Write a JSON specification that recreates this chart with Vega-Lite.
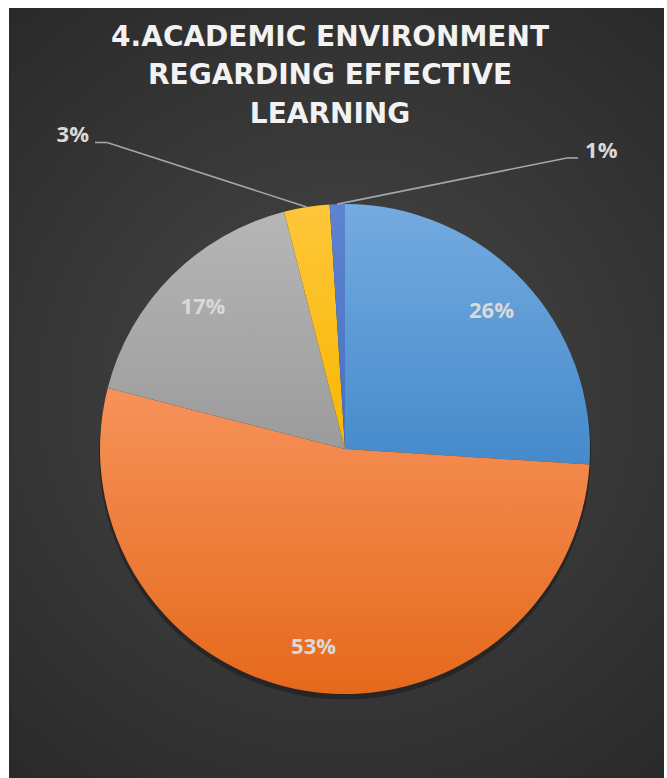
{
  "$schema": "https://vega.github.io/schema/vega-lite/v6.json",
  "width": 655,
  "height": 770,
  "autosize": {"type": "none"},
  "padding": {"left": 9, "top": 8, "right": 3, "bottom": 0},
  "background": "#ffffff",
  "view": {
    "stroke": null,
    "fill": {"gradient": "radial", "x1": 0.5, "y1": 0.5, "r1": 0, "x2": 0.5, "y2": 0.5, "r2": 0.75,
      "stops": [{"offset": 0, "color": "#484848"}, {"offset": 1, "color": "#252525"}]}
  },
  "data": {"values": [
    {"order": 1, "response": "Strongly agree", "value": 26},
    {"order": 2, "response": "Agree", "value": 53},
    {"order": 3, "response": "Neutral", "value": 17},
    {"order": 4, "response": "Disagree", "value": 3},
    {"order": 5, "response": "Strongly disagree", "value": 1}
  ]},
  "transform": [
    {"window": [{"op": "sum", "field": "value", "as": "cum"}], "sort": [{"field": "order"}], "frame": [null, 0]},
    {"calculate": "datum.cum - datum.value", "as": "start"},
    {"calculate": "(datum.start + datum.cum) * PI / 100", "as": "mid"},
    {"calculate": "sin(datum.mid)", "as": "ex"},
    {"calculate": "cos(datum.mid)", "as": "ey"},
    {"calculate": "0.82 * sin(datum.mid)", "as": "lx"},
    {"calculate": "0.82 * cos(datum.mid)", "as": "ly"},
    {"calculate": "datum.value + '%'", "as": "label"}
  ],
  "layer": [
    {
      "mark": {"type": "arc", "outerRadius": 246, "fill": "#151515", "fillOpacity": 0.45, "stroke": null},
      "encoding": {
        "theta": {"field": "start", "type": "quantitative", "stack": null, "scale": {"domain": [0, 100], "range": [0, 6.283185307]}},
        "theta2": {"field": "cum"},
        "x": {"datum": 0, "type": "quantitative", "scale": {"domain": [-1.3714, 1.302], "nice": false, "zero": false}, "axis": null},
        "y": {"datum": -0.018, "type": "quantitative", "scale": {"domain": [-1.3429, 1.8], "nice": false, "zero": false}, "axis": null}
      }
    },
    {
      "mark": {"type": "arc", "outerRadius": 245, "stroke": null},
      "encoding": {
        "theta": {"field": "start", "type": "quantitative", "stack": null, "scale": {"domain": [0, 100], "range": [0, 6.283185307]}},
        "theta2": {"field": "cum"},
        "x": {"datum": 0, "type": "quantitative", "scale": {"domain": [-1.3714, 1.302], "nice": false, "zero": false}, "axis": null},
        "y": {"datum": 0, "type": "quantitative", "scale": {"domain": [-1.3429, 1.8], "nice": false, "zero": false}, "axis": null},
        "fill": {
          "condition": [
            {"test": "datum.order == 1", "value": {"gradient": "linear", "x1": 0, "y1": 0, "x2": 0, "y2": 1, "stops": [{"offset": 0, "color": "#74abe0"}, {"offset": 1, "color": "#458acb"}]}},
            {"test": "datum.order == 2", "value": {"gradient": "linear", "x1": 0, "y1": 0, "x2": 0, "y2": 1, "stops": [{"offset": 0, "color": "#f6925a"}, {"offset": 1, "color": "#e5691b"}]}},
            {"test": "datum.order == 3", "value": {"gradient": "linear", "x1": 0, "y1": 0, "x2": 0, "y2": 1, "stops": [{"offset": 0, "color": "#b6b6b6"}, {"offset": 1, "color": "#9b9b9b"}]}},
            {"test": "datum.order == 4", "value": {"gradient": "linear", "x1": 0, "y1": 0, "x2": 0, "y2": 1, "stops": [{"offset": 0, "color": "#ffc63a"}, {"offset": 1, "color": "#f7b800"}]}}
          ],
          "value": {"gradient": "linear", "x1": 0, "y1": 0, "x2": 0, "y2": 1, "stops": [{"offset": 0, "color": "#5e84d0"}, {"offset": 1, "color": "#4670c2"}]}
        }
      }
    },
    {
      "transform": [{"filter": "datum.value >= 10"}],
      "mark": {"type": "text", "font": "Open Sans", "fontWeight": "bold", "fontSize": 22, "color": "#d9d9d9", "align": "center", "baseline": "middle"},
      "encoding": {
        "x": {"field": "lx", "type": "quantitative", "scale": {"domain": [-1.3714, 1.302], "nice": false, "zero": false}, "axis": null},
        "y": {"field": "ly", "type": "quantitative", "scale": {"domain": [-1.3429, 1.8], "nice": false, "zero": false}, "axis": null},
        "text": {"field": "label"}
      }
    },
    {
      "transform": [{"filter": "datum.order == 4"}],
      "mark": {"type": "rule", "color": "#a6a6a6", "strokeWidth": 1.6},
      "encoding": {
        "x": {"field": "ex", "type": "quantitative", "scale": {"domain": [-1.3714, 1.302], "nice": false, "zero": false}, "axis": null},
        "y": {"field": "ey", "type": "quantitative", "scale": {"domain": [-1.3429, 1.8], "nice": false, "zero": false}, "axis": null},
        "x2": {"datum": -0.971},
        "y2": {"datum": 1.251}
      }
    },
    {
      "transform": [{"filter": "datum.order == 4"}],
      "mark": {"type": "rule", "color": "#a6a6a6", "strokeWidth": 1.6},
      "encoding": {
        "x": {"datum": -0.971, "type": "quantitative", "scale": {"domain": [-1.3714, 1.302], "nice": false, "zero": false}, "axis": null},
        "x2": {"datum": -1.02},
        "y": {"datum": 1.251, "type": "quantitative", "scale": {"domain": [-1.3429, 1.8], "nice": false, "zero": false}, "axis": null}
      }
    },
    {
      "transform": [{"filter": "datum.order == 4"}],
      "mark": {"type": "text", "font": "Open Sans", "fontWeight": "bold", "fontSize": 22, "color": "#d9d9d9", "align": "right", "baseline": "middle"},
      "encoding": {
        "x": {"datum": -1.045, "type": "quantitative", "scale": {"domain": [-1.3714, 1.302], "nice": false, "zero": false}, "axis": null},
        "y": {"datum": 1.282, "type": "quantitative", "scale": {"domain": [-1.3429, 1.8], "nice": false, "zero": false}, "axis": null},
        "text": {"field": "label"}
      }
    },
    {
      "transform": [{"filter": "datum.order == 5"}],
      "mark": {"type": "rule", "color": "#a6a6a6", "strokeWidth": 1.6},
      "encoding": {
        "x": {"field": "ex", "type": "quantitative", "scale": {"domain": [-1.3714, 1.302], "nice": false, "zero": false}, "axis": null},
        "y": {"field": "ey", "type": "quantitative", "scale": {"domain": [-1.3429, 1.8], "nice": false, "zero": false}, "axis": null},
        "x2": {"datum": 0.906},
        "y2": {"datum": 1.188}
      }
    },
    {
      "transform": [{"filter": "datum.order == 5"}],
      "mark": {"type": "rule", "color": "#a6a6a6", "strokeWidth": 1.6},
      "encoding": {
        "x": {"datum": 0.906, "type": "quantitative", "scale": {"domain": [-1.3714, 1.302], "nice": false, "zero": false}, "axis": null},
        "x2": {"datum": 0.951},
        "y": {"datum": 1.188, "type": "quantitative", "scale": {"domain": [-1.3429, 1.8], "nice": false, "zero": false}, "axis": null}
      }
    },
    {
      "transform": [{"filter": "datum.order == 5"}],
      "mark": {"type": "text", "font": "Open Sans", "fontWeight": "bold", "fontSize": 22, "color": "#d9d9d9", "align": "left", "baseline": "middle"},
      "encoding": {
        "x": {"datum": 0.98, "type": "quantitative", "scale": {"domain": [-1.3714, 1.302], "nice": false, "zero": false}, "axis": null},
        "y": {"datum": 1.216, "type": "quantitative", "scale": {"domain": [-1.3429, 1.8], "nice": false, "zero": false}, "axis": null},
        "text": {"field": "label"}
      }
    },
    {
      "transform": [{"filter": "datum.order == 1"}],
      "mark": {"type": "text", "font": "DejaVu Sans", "fontWeight": "bold", "fontSize": 28, "color": "#f2f2f2", "align": "center", "baseline": "alphabetic", "lineHeight": 38.5},
      "encoding": {
        "x": {"datum": -0.061, "type": "quantitative", "scale": {"domain": [-1.3714, 1.302], "nice": false, "zero": false}, "axis": null},
        "y": {"datum": 1.645, "type": "quantitative", "scale": {"domain": [-1.3429, 1.8], "nice": false, "zero": false}, "axis": null},
        "text": {"value": ["4.ACADEMIC ENVIRONMENT", "REGARDING EFFECTIVE", "LEARNING"]}
      }
    }
  ]
}
